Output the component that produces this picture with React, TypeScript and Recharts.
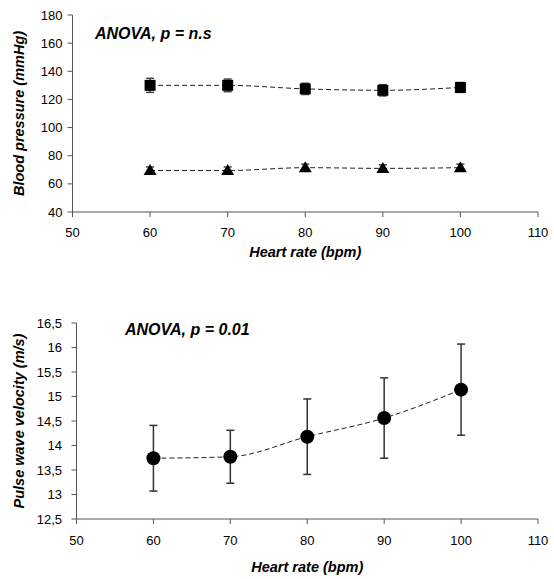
import React from "react";
import { ComposedChart, Line, XAxis, YAxis, ErrorBar } from "recharts";

const heartRate = [60, 70, 80, 90, 100];
const systolic = [130, 130, 127.5, 126.5, 128.5];
const systolicErr = [5, 4.5, 4, 4, 3.5];
const diastolic = [69.5, 69.5, 71.5, 71, 71.5];
const diastolicErr = [2.5, 2.5, 2.5, 2.5, 2.5];
const pwv = [13.74, 13.77, 14.18, 14.56, 15.14];
const pwvErr = [0.67, 0.54, 0.77, 0.82, 0.93];

const xTicks = [50, 60, 70, 80, 90, 100, 110];
const bpTicks = [40, 60, 80, 100, 120, 140, 160, 180];
const pwvTicks = [12.5, 13, 13.5, 14, 14.5, 15, 15.5, 16, 16.5];

const bpData = heartRate.map((hr, i) => ({
  hr,
  sys: systolic[i],
  sysErr: systolicErr[i],
  dia: diastolic[i],
  diaErr: diastolicErr[i],
}));

const pwvData = heartRate.map((hr, i) => ({ hr, pwv: pwv[i], err: pwvErr[i] }));

const font = "'Liberation Sans', Arial, sans-serif";
const axisColor = "#555";
const tickStyle = { fill: "#000", fontSize: 13, fontFamily: font };

const Square = (p: any) =>
  p.cx == null ? null : (
    <rect key={`sq-${p.index}`} x={p.cx - 5.5} y={p.cy - 5.5} width={11} height={11} fill="#000" />
  );

const Triangle = (p: any) =>
  p.cx == null ? null : (
    <polygon
      key={`tr-${p.index}`}
      points={`${p.cx},${p.cy - 6.5} ${p.cx - 6.5},${p.cy + 4.5} ${p.cx + 6.5},${p.cy + 4.5}`}
      fill="#000"
    />
  );

const Dot = (p: any) =>
  p.cx == null ? null : <circle key={`c-${p.index}`} cx={p.cx} cy={p.cy} r={7} fill="#000" />;

function yLabel(text: string, x: number, y: number) {
  return {
    value: text,
    content: () => (
      <text
        x={x}
        y={y}
        transform={`rotate(-90 ${x} ${y})`}
        textAnchor="middle"
        dominantBaseline="central"
        fontFamily={font}
        fontSize={14.5}
        fontWeight="bold"
        fontStyle="italic"
        fill="#000"
      >
        {text}
      </text>
    ),
  };
}

const xLabel = (offset: number) => ({
  value: "Heart rate (bpm)",
  position: "insideBottom" as const,
  offset,
  fill: "#000",
  fontFamily: font,
  fontSize: 14.5,
  fontWeight: "bold",
  fontStyle: "italic",
});

const anovaStyle: React.CSSProperties = {
  position: "absolute",
  fontFamily: font,
  fontSize: 16,
  fontWeight: "bold",
  fontStyle: "italic",
  lineHeight: "16px",
  whiteSpace: "nowrap",
  color: "#000",
};

export default function App() {
  return (
    <div style={{ position: "relative", width: 554, height: 579, background: "#fff" }}>
      <style>{"body{margin:0}"}</style>

      <div style={{ position: "absolute", left: 0, top: 0 }}>
        <ComposedChart width={554} height={270} data={bpData} margin={{ top: 15, right: 16, left: 0, bottom: 8 }}>
          <XAxis
            type="number"
            dataKey="hr"
            domain={[50, 110]}
            ticks={xTicks}
            stroke={axisColor}
            tickSize={5}
            tickMargin={11}
            tick={tickStyle}
            height={50}
            label={xLabel(5)}
          />
          <YAxis
            type="number"
            domain={[40, 180]}
            ticks={bpTicks}
            stroke={axisColor}
            tickSize={5}
            tickMargin={5}
            tick={tickStyle}
            width={72.5}
            label={yLabel("Blood pressure (mmHg)", 19, 113.5)}
          />
          <Line
            type="monotone"
            dataKey="sys"
            stroke="#222"
            strokeWidth={1}
            strokeDasharray="5 3"
            dot={Square}
            activeDot={false}
            isAnimationActive={false}
          >
            <ErrorBar dataKey="sysErr" width={4} stroke="#444" strokeWidth={1.5} isAnimationActive={false} />
          </Line>
          <Line
            type="monotone"
            dataKey="dia"
            stroke="#222"
            strokeWidth={1}
            strokeDasharray="5 3"
            dot={Triangle}
            activeDot={false}
            isAnimationActive={false}
          >
            <ErrorBar dataKey="diaErr" width={4} stroke="#444" strokeWidth={1.5} isAnimationActive={false} />
          </Line>
        </ComposedChart>
      </div>
      <div style={{ ...anovaStyle, left: 95, top: 26 }}>ANOVA, p = n.s</div>

      <div style={{ position: "absolute", left: 0, top: 270 }}>
        <ComposedChart width={554} height={309} data={pwvData} margin={{ top: 53, right: 16, left: 0, bottom: 5 }}>
          <XAxis
            type="number"
            dataKey="hr"
            domain={[50, 110]}
            ticks={xTicks}
            stroke={axisColor}
            tickSize={5}
            tickMargin={12}
            tick={tickStyle}
            height={55}
            label={xLabel(2)}
          />
          <YAxis
            type="number"
            domain={[12.5, 16.5]}
            ticks={pwvTicks}
            stroke={axisColor}
            tickSize={5}
            tickMargin={9.5}
            tick={tickStyle}
            width={76.5}
            tickFormatter={(v: number) => String(v).replace(".", ",")}
            label={yLabel("Pulse wave velocity (m/s)", 19, 151)}
          />
          <Line
            type="monotone"
            dataKey="pwv"
            stroke="#222"
            strokeWidth={1}
            strokeDasharray="5 3"
            dot={Dot}
            activeDot={false}
            isAnimationActive={false}
          >
            <ErrorBar dataKey="err" width={4} stroke="#333" strokeWidth={1.5} isAnimationActive={false} />
          </Line>
        </ComposedChart>
      </div>
      <div style={{ ...anovaStyle, left: 125, top: 322 }}>ANOVA, p = 0.01</div>
    </div>
  );
}
